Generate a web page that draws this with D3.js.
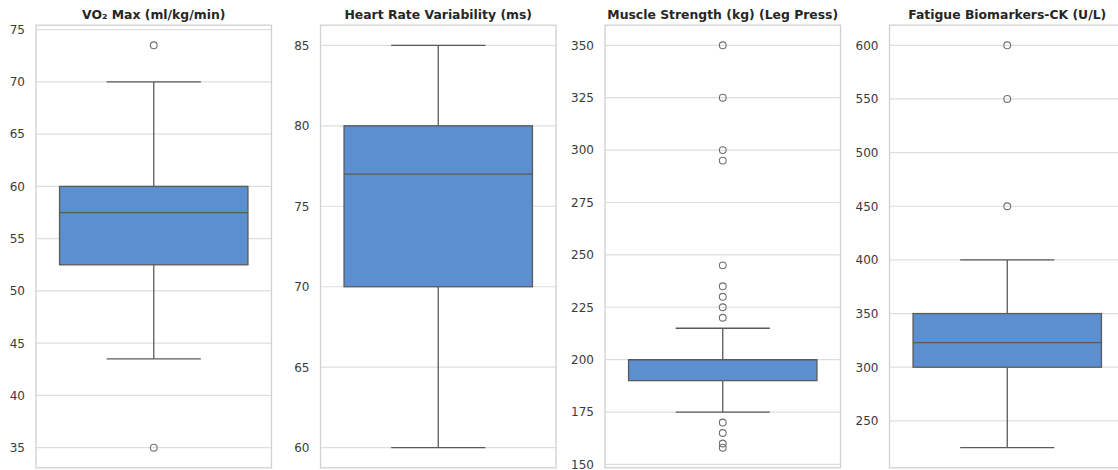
<!DOCTYPE html>
<html>
<head>
<meta charset="utf-8">
<script src="https://cdn.jsdelivr.net/npm/d3@7"></script>
<style>
  html, body { margin: 0; padding: 0; background: #fff; overflow: hidden; }
  svg { display: block; font-family: "DejaVu Sans", sans-serif; }
</style>
</head>
<body>
<svg id="chart" width="1118" height="470"></svg>
<script>
// Metric panels: one box plot per metric
const titles = [
  "VO\u2082 Max (ml/kg/min)",
  "Heart Rate Variability (ms)",
  "Muscle Strength (kg) (Leg Press)",
  "Fatigue Biomarkers-CK (U/L)"
];
const q1Values = [52.5, 70, 190, 300];
const medianValues = [57.5, 77, 200, 323];
const q3Values = [60, 80, 200, 350];
const whiskerLow = [43.5, 60, 175, 225];
const whiskerHigh = [70, 85, 215, 400];
const outlierValues = [
  [73.5, 35],
  [],
  [350, 325, 300, 295, 245, 235, 230, 225, 220, 170, 165, 160, 158],
  [600, 550, 450]
];
const yTickValues = [
  [35, 40, 45, 50, 55, 60, 65, 70, 75],
  [60, 65, 70, 75, 80, 85],
  [150, 175, 200, 225, 250, 275, 300, 325, 350],
  [250, 300, 350, 400, 450, 500, 550, 600]
];

const svg = d3.select("#chart");
const panelLefts = [36, 320.5, 605, 889.5];
const panelWidth = 235.5;
const plotTop = 25.2, plotBottom = 467.8;

const boxFill = "#5b8fcf";
const lineColor = "#5a5a5a";
const gridColor = "#dedede";
const frameColor = "#d0d0d0";

titles.forEach((title, i) => {
  const left = panelLefts[i];
  const g = svg.append("g");

  const allVals = [whiskerLow[i], whiskerHigh[i], q1Values[i], q3Values[i], ...outlierValues[i]];
  const lo = d3.min(allVals), hi = d3.max(allVals);
  const pad = (hi - lo) * 0.05;
  const y = d3.scaleLinear().domain([lo - pad, hi + pad]).range([plotBottom, plotTop]);
  const x = d3.scaleBand().domain([title]).range([left, left + panelWidth]).paddingInner(0).paddingOuter(0.125);

  // horizontal grid
  g.append("g")
    .selectAll("line")
    .data(yTickValues[i])
    .join("line")
    .attr("x1", left).attr("x2", left + panelWidth)
    .attr("y1", d => y(d)).attr("y2", d => y(d))
    .attr("stroke", gridColor).attr("stroke-width", 1.2);

  // y axis labels
  const axis = d3.axisLeft(y).tickValues(yTickValues[i]).tickSize(0).tickPadding(11);
  const ax = g.append("g").attr("transform", `translate(${left},0)`).call(axis);
  ax.select(".domain").remove();
  ax.selectAll("text")
    .attr("font-family", "DejaVu Sans, sans-serif")
    .attr("font-size", 12)
    .attr("fill", "#3a3a3a");

  const cx = x(title) + x.bandwidth() / 2;
  const bw = x.bandwidth();
  const capW = bw / 2;

  // whiskers
  g.append("line")
    .attr("x1", cx).attr("x2", cx)
    .attr("y1", y(whiskerHigh[i])).attr("y2", y(q3Values[i]))
    .attr("stroke", lineColor).attr("stroke-width", 1.3);
  g.append("line")
    .attr("x1", cx).attr("x2", cx)
    .attr("y1", y(q1Values[i])).attr("y2", y(whiskerLow[i]))
    .attr("stroke", lineColor).attr("stroke-width", 1.3);
  [whiskerLow[i], whiskerHigh[i]].forEach(v => {
    g.append("line")
      .attr("x1", cx - capW / 2).attr("x2", cx + capW / 2)
      .attr("y1", y(v)).attr("y2", y(v))
      .attr("stroke", lineColor).attr("stroke-width", 1.3);
  });

  // box
  g.append("rect")
    .attr("x", x(title)).attr("width", bw)
    .attr("y", y(q3Values[i])).attr("height", y(q1Values[i]) - y(q3Values[i]))
    .attr("fill", boxFill)
    .attr("stroke", lineColor).attr("stroke-width", 1.3);

  // median
  g.append("line")
    .attr("x1", x(title)).attr("x2", x(title) + bw)
    .attr("y1", y(medianValues[i])).attr("y2", y(medianValues[i]))
    .attr("stroke", lineColor).attr("stroke-width", 1.3);

  // outliers
  g.append("g")
    .selectAll("circle")
    .data(outlierValues[i])
    .join("circle")
    .attr("cx", cx).attr("cy", d => y(d))
    .attr("r", 3.4)
    .attr("fill", "none")
    .attr("stroke", "#707070").attr("stroke-width", 1.1);

  // frame
  g.append("rect")
    .attr("x", left).attr("y", plotTop)
    .attr("width", panelWidth).attr("height", plotBottom - plotTop)
    .attr("fill", "none")
    .attr("stroke", frameColor).attr("stroke-width", 1.3);

  // title
  g.append("text")
    .attr("x", left + panelWidth / 2).attr("y", 19)
    .attr("text-anchor", "middle")
    .attr("font-family", "DejaVu Sans, sans-serif")
    .attr("font-weight", "bold")
    .attr("font-size", 12.4)
    .attr("fill", "#262626")
    .text(title);
});
</script>
</body>
</html>
